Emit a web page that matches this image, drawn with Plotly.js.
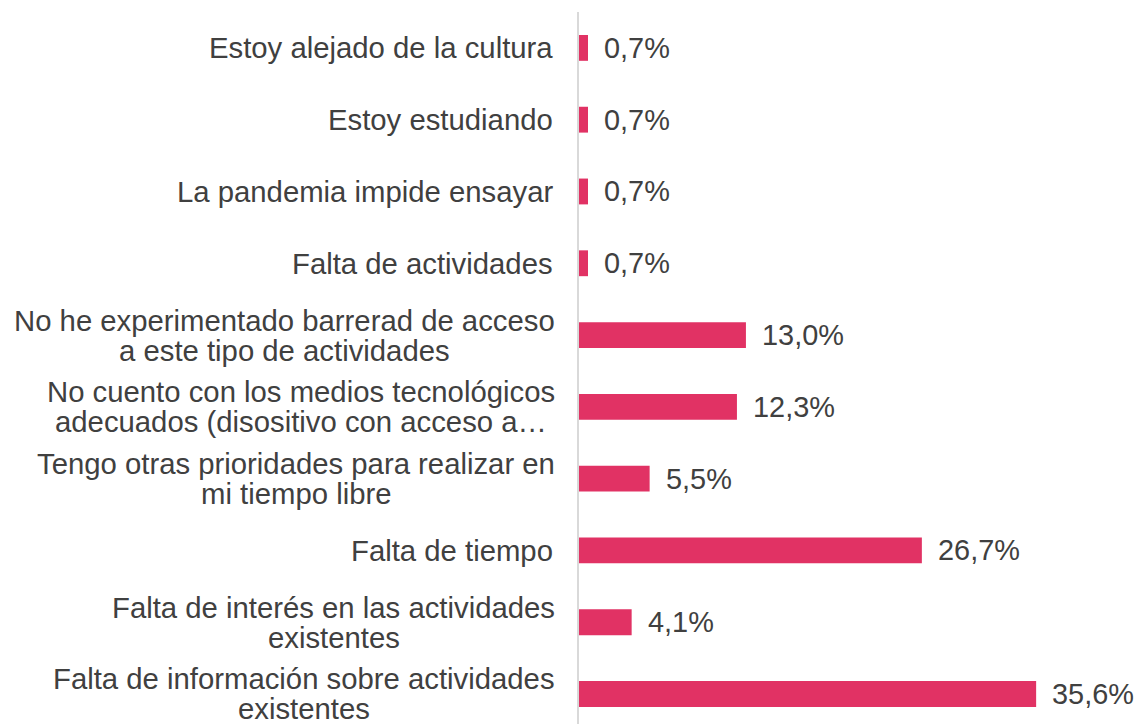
<!DOCTYPE html>
<html>
<head>
<meta charset="utf-8">
<script src="https://cdn.plot.ly/plotly-3.0.1.min.js"></script>
<style>html,body{margin:0;padding:0;background:#fff;}#chart{width:1139px;height:724px;}</style>
</head>
<body>
<div id="chart"></div>
<script>
// Categories listed top to bottom, as shown in the chart
const categories = [
  "Estoy alejado de la cultura",
  "Estoy estudiando",
  "La pandemia impide ensayar",
  "Falta de actividades",
  "No he experimentado barrerad de acceso<br>a este tipo de actividades",
  "No cuento con los medios tecnológicos<br>adecuados (disositivo con acceso a…",
  "Tengo otras prioridades para realizar en<br>mi tiempo libre",
  "Falta de tiempo",
  "Falta de interés en las actividades<br>existentes",
  "Falta de información sobre actividades<br>existentes"
];
const values = [0.7, 0.7, 0.7, 0.7, 13.0, 12.3, 5.5, 26.7, 4.1, 35.6];

const FONT = "Liberation Sans, Arial, sans-serif";
const FS_CAT = 29.3;
const FS_VAL = 28.9;
const TXT = "#404040";
const BAR = "#E13264";
const LINE_GAP = 30;

const ctx = document.createElement("canvas").getContext("2d");
ctx.font = FS_CAT + "px 'Liberation Sans'";

const annotations = [];
// category labels
categories.forEach((c, i) => {
  const lines = c.split("<br>");
  const widths = lines.map(l => ctx.measureText(l).width);
  const wmax = Math.max(...widths);
  lines.forEach((l, k) => {
    const shift = ((lines.length - 1) / 2 - k) * LINE_GAP;
    annotations.push({
      xref: "paper", yref: "y", x: 0, y: i,
      text: l, showarrow: false,
      xanchor: lines.length > 1 ? "center" : "right",
      xshift: lines.length > 1 ? (-24 - wmax / 2) : -24,
      yshift: shift,
      font: {family: FONT, size: FS_CAT, color: TXT}
    });
  });
});
// value labels
values.forEach((v, i) => {
  annotations.push({
    xref: "x", yref: "y", x: v, y: i,
    text: v.toFixed(1).replace(".", ",") + "%",
    showarrow: false, xanchor: "left", xshift: 14,
    font: {family: FONT, size: FS_VAL, color: TXT}
  });
});

const data = [{
  type: "bar", orientation: "h",
  y: categories, x: values,
  width: 0.36,
  marker: {color: BAR},
  hoverinfo: "skip"
}];

const layout = {
  width: 1139, height: 724,
  margin: {l: 579, r: 47, t: 12, b: 0, pad: 0},
  paper_bgcolor: "#fff", plot_bgcolor: "#fff",
  showlegend: false,
  font: {family: FONT, size: FS_CAT, color: TXT},
  xaxis: {range: [0, 39.95], showgrid: false, zeroline: false, showticklabels: false, showline: false, fixedrange: true},
  yaxis: {type: "category", range: [9.418, -0.5], showgrid: false, zeroline: false, showticklabels: false,
          showline: true, linecolor: "#d9d9d9", linewidth: 2, ticks: "", fixedrange: true},
  annotations: annotations
};

Plotly.newPlot("chart", data, layout, {displayModeBar: false, staticPlot: true});
</script>
</body>
</html>
